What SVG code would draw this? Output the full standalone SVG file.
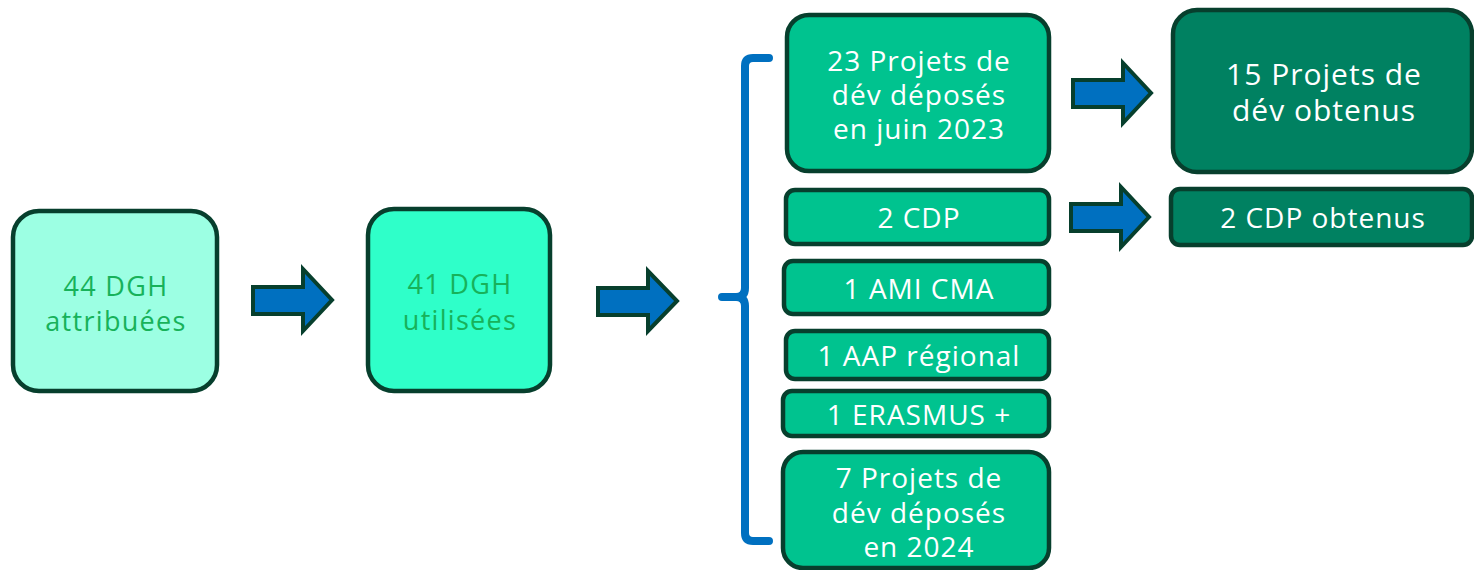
<svg xmlns="http://www.w3.org/2000/svg" width="1474" height="570" viewBox="0 0 1474 570">
<style>
.b{stroke:#073f2d;stroke-width:4.5}
.l{fill:#9cffe3}
.u{fill:#2fffc9}
.m{fill:#00c38f}
.r{fill:#008161}
.t{font-family:"Open Sans",Lato,sans-serif;text-anchor:middle}
.g{fill:#17b25a;font-size:27px;letter-spacing:1.3px}
.w{fill:#ffffff;font-size:28px;letter-spacing:1px}
.w2{fill:#ffffff;font-size:30px;letter-spacing:1px}
.ar{fill:#0070c0;stroke:#073f2d;stroke-width:4;stroke-linejoin:miter}
</style>
<rect width="1474" height="570" fill="#ffffff"/>
<g id="n1"><rect class="b l" x="13" y="211" width="204" height="180" rx="26"/>
<text class="t g" x="116" y="296">44 DGH</text><text class="t g" x="116" y="331">attribuées</text></g>
<g id="n2"><rect class="b u" x="368" y="209" width="182" height="182" rx="26"/>
<text class="t g" x="460" y="294">41 DGH</text><text class="t g" x="460" y="330">utilisées</text></g>
<g id="n3"><rect class="b m" x="787" y="15" width="262" height="156" rx="22"/>
<text class="t w" x="919" y="71">23 Projets de</text><text class="t w" x="919" y="105">dév déposés</text><text class="t w" x="919" y="139">en juin 2023</text></g>
<g id="n4"><rect class="b m" x="786" y="190" width="263" height="54" rx="9"/>
<text class="t w" x="919" y="228">2 CDP</text></g>
<g id="n5"><rect class="b m" x="784" y="261" width="265" height="53" rx="9"/>
<text class="t w" x="919" y="299">1 AMI CMA</text></g>
<g id="n6"><rect class="b m" x="786" y="331" width="263" height="48" rx="9"/>
<text class="t w" x="919" y="366">1 AAP régional</text></g>
<g id="n7"><rect class="b m" x="783" y="391" width="266" height="45" rx="9"/>
<text class="t w" x="919" y="425">1 ERASMUS +</text></g>
<g id="n8"><rect class="b m" x="783" y="452" width="266" height="116" rx="20"/>
<text class="t w" x="919" y="488">7 Projets de</text><text class="t w" x="919" y="523">dév déposés</text><text class="t w" x="919" y="557">en 2024</text></g>
<g id="n9"><rect class="b r" x="1173" y="10" width="299" height="162" rx="24"/>
<text class="t w2" x="1324" y="85">15 Projets de</text><text class="t w2" x="1324" y="121">dév obtenus</text></g>
<g id="n10"><rect class="b r" x="1171" y="189" width="301" height="56" rx="9"/>
<text class="t w" x="1323" y="228">2 CDP obtenus</text></g>
<g id="connectors">
<path class="ar" d="M253,287 H303 V269 L332,300 L303,331 V314 H253 Z"/>
<path class="ar" d="M598,288 H648 V271 L677,301 L648,331 V315 H598 Z"/>
<path class="ar" d="M1073,80 H1123 V63 L1151,93 L1123,123 V107 H1073 Z"/>
<path class="ar" d="M1071,204 H1121 V187 L1149,217 L1121,247 V231 H1071 Z"/>
<path d="M769,58 H753 Q745,58 745,66 V288 Q745,297 736,297 H722 M736,297 Q745,297 745,306 V533 Q745,541 753,541 H769" fill="none" stroke="#0070c0" stroke-width="8" stroke-linecap="round" stroke-linejoin="round"/>
</g>
</svg>
